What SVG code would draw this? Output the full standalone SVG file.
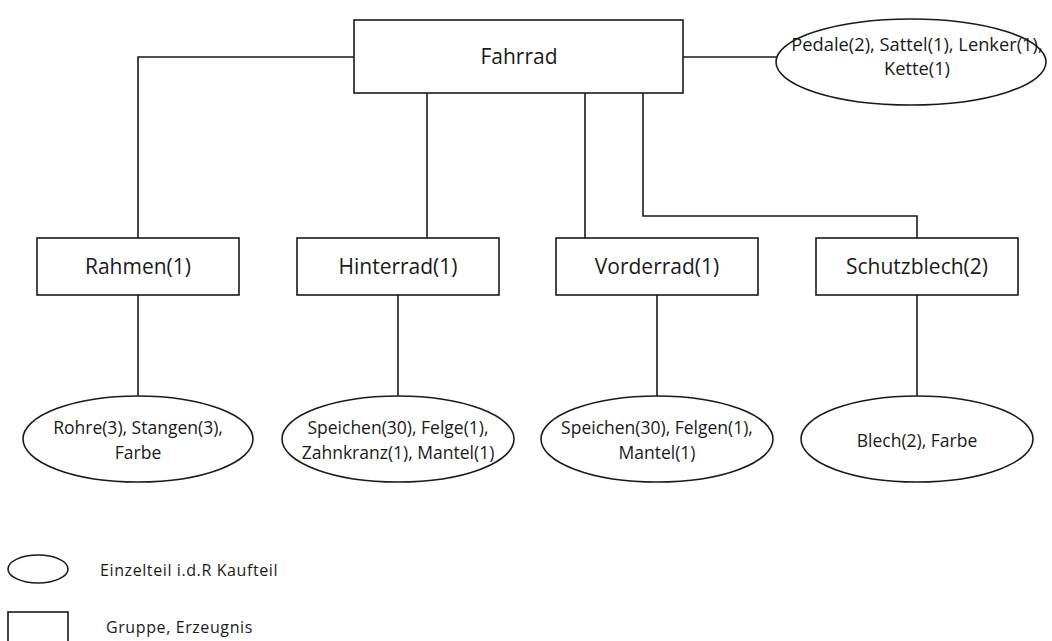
<svg xmlns="http://www.w3.org/2000/svg" width="1052" height="641" viewBox="0 0 1052 641">
<style>
.box{fill:#fff;stroke:#1a1a1a;stroke-width:1.6}
.ell{fill:#fff;stroke:#1a1a1a;stroke-width:1.6}
.con{fill:none;stroke:#1a1a1a;stroke-width:1.6}
.lb{font-family:"Open Sans","Liberation Sans",sans-serif;font-size:21px;fill:#1a1a1a;text-anchor:middle}
.el{font-family:"Open Sans","Liberation Sans",sans-serif;font-size:17.5px;fill:#1a1a1a;text-anchor:middle}
.lg{font-family:"Open Sans","Liberation Sans",sans-serif;font-size:16px;letter-spacing:0.6px;fill:#1a1a1a}
</style>
<rect width="1052" height="641" fill="#fff"/>
<g id="connectors">
<path class="con" d="M354,57 H138 V238"/>
<path class="con" d="M683,57 H777"/>
<path class="con" d="M427,93 V238"/>
<path class="con" d="M585,93 V238"/>
<path class="con" d="M643,93 V216 H917 V238"/>
<path class="con" d="M138,295 V396"/>
<path class="con" d="M398,295 V396"/>
<path class="con" d="M657,295 V396"/>
<path class="con" d="M917,295 V396"/>
</g>
<g id="fahrrad"><rect class="box" x="354" y="20" width="329" height="73"/><text class="lb" x="519" y="64">Fahrrad</text></g>
<g id="kaufteile-top"><ellipse class="ell" cx="911" cy="62" rx="135" ry="43"/><text class="el" x="917" y="51" style="font-size:18.3px">Pedale(2), Sattel(1), Lenker(1),</text><text class="el" x="917" y="75" style="font-size:18.3px">Kette(1)</text></g>
<g id="rahmen"><rect class="box" x="37" y="238" width="202" height="57"/><text class="lb" x="138" y="274">Rahmen(1)</text></g>
<g id="hinterrad"><rect class="box" x="297" y="238" width="202" height="57"/><text class="lb" x="398" y="274">Hinterrad(1)</text></g>
<g id="vorderrad"><rect class="box" x="556" y="238" width="202" height="57"/><text class="lb" x="657" y="274">Vorderrad(1)</text></g>
<g id="schutzblech"><rect class="box" x="816" y="238" width="202" height="57"/><text class="lb" x="917" y="274">Schutzblech(2)</text></g>
<g id="rahmen-teile"><ellipse class="ell" cx="138" cy="439" rx="115" ry="43"/><text class="el" x="138" y="434">Rohre(3), Stangen(3),</text><text class="el" x="138" y="459">Farbe</text></g>
<g id="hinterrad-teile"><ellipse class="ell" cx="398" cy="439" rx="116" ry="43"/><text class="el" x="398" y="434">Speichen(30), Felge(1),</text><text class="el" x="398" y="459">Zahnkranz(1), Mantel(1)</text></g>
<g id="vorderrad-teile"><ellipse class="ell" cx="657" cy="439" rx="116" ry="43"/><text class="el" x="657" y="434">Speichen(30), Felgen(1),</text><text class="el" x="657" y="459">Mantel(1)</text></g>
<g id="schutzblech-teile"><ellipse class="ell" cx="917" cy="439" rx="116" ry="43"/><text class="el" x="917" y="447">Blech(2), Farbe</text></g>
<g id="legend-ellipse"><ellipse class="ell" cx="38" cy="569" rx="30" ry="14"/><text class="lg" x="100" y="576">Einzelteil i.d.R Kaufteil</text></g>
<g id="legend-rect"><rect class="box" x="8" y="612" width="60" height="30"/><text class="lg" x="106" y="633">Gruppe, Erzeugnis</text></g>
</svg>
